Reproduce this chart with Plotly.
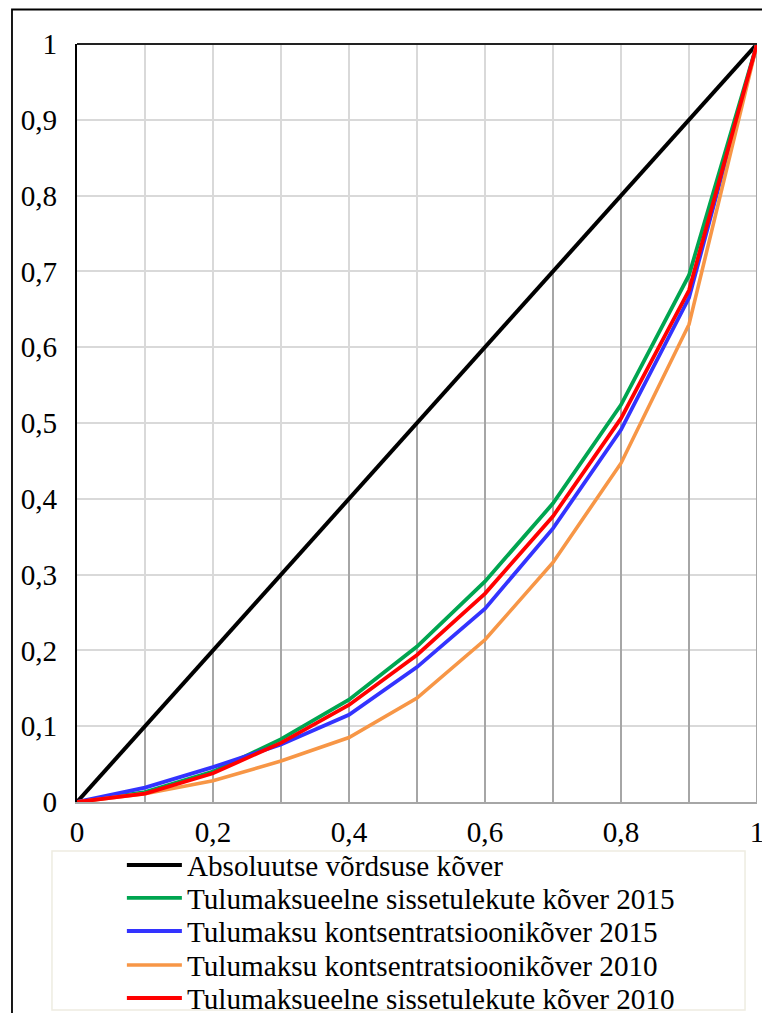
import plotly.graph_objects as go

x = [0, 0.1, 0.2, 0.3, 0.4, 0.5, 0.6, 0.7, 0.8, 0.9, 1.0]
equality = [0, 0.1, 0.2, 0.3, 0.4, 0.5, 0.6, 0.7, 0.8, 0.9, 1.0]
pretax_2015 = [0, 0.013, 0.040, 0.083, 0.135, 0.205, 0.291, 0.394, 0.524, 0.695, 1.0]
conc_2015 = [0, 0.019, 0.046, 0.076, 0.115, 0.178, 0.255, 0.361, 0.491, 0.665, 1.0]
conc_2010 = [0, 0.011, 0.028, 0.054, 0.085, 0.137, 0.214, 0.316, 0.447, 0.630, 1.0]
pretax_2010 = [0, 0.011, 0.038, 0.078, 0.128, 0.194, 0.275, 0.377, 0.506, 0.675, 1.0]

names = [
    "Absoluutse võrdsuse kõver",
    "Tulumaksueelne sissetulekute kõver 2015",
    "Tulumaksu kontsentratsioonikõver 2015",
    "Tulumaksu kontsentratsioonikõver 2010",
    "Tulumaksueelne sissetulekute kõver 2010",
]
series = [equality, pretax_2015, conc_2015, conc_2010, pretax_2010]
colors = ["#000000", "#00A550", "#3333FF", "#F79646", "#FF0000"]
widths = [4, 3.8, 3.8, 3.6, 3.8]

xticks = [0, 0.2, 0.4, 0.6, 0.8, 1.0]
xtick_text = ["0", "0,2", "0,4", "0,6", "0,8", "1"]
yticks = [0, 0.1, 0.2, 0.3, 0.4, 0.5, 0.6, 0.7, 0.8, 0.9, 1.0]
ytick_text = ["0", "0,1", "0,2", "0,3", "0,4", "0,5", "0,6", "0,7", "0,8", "0,9", "1"]

FONT = "Liberation Serif"
FS = 29.2

fig = go.Figure()

# drop lines from the equality curve down to the x axis
dx, dy = [], []
for xv, yv in zip(x, equality):
    dx += [xv, xv, None]
    dy += [0, yv, None]
fig.add_trace(go.Scatter(x=dx, y=dy, mode="lines", line=dict(color="#A6A6A6", width=2),
                         showlegend=False, hoverinfo="skip"))

legend_ids = ["legend", "legend2", "legend3", "legend4", "legend5"]
for name, vals, c, w, lg in zip(names, series, colors, widths, legend_ids):
    fig.add_trace(go.Scatter(x=x, y=vals, mode="lines", name=name,
                             line=dict(color=c, width=w), legend=lg))

# outer chart border
fig.add_shape(type="rect", xref="paper", yref="paper",
              x0=-0.0956, x1=1.2, y0=-0.5, y1=1.0455,
              line=dict(color="#000000", width=1.8), layer="below")
# top border of plot area
fig.add_shape(type="line", xref="paper", yref="paper", x0=0, x1=1, y0=1, y1=1,
              line=dict(color="#222222", width=2))
# legend box
fig.add_shape(type="rect", xref="paper", yref="paper",
              x0=-0.0368, x1=0.9824, y0=-0.2744, y1=-0.0646,
              line=dict(color="#EEECE1", width=1.5), fillcolor="white", layer="below")

row_y = [-0.0831, -0.1266, -0.1702, -0.2150, -0.2586]
legend_layout = {}
for lg, ry in zip(legend_ids, row_y):
    legend_layout[lg] = dict(x=0.066, y=ry, xanchor="left", yanchor="middle",
                             bgcolor="rgba(0,0,0,0)", borderwidth=0,
                             font=dict(family=FONT, size=FS, color="#000000"),
                             itemwidth=55)

fig.update_layout(
    width=762, height=1005,
    margin=dict(l=69, r=13, t=36, b=211, autoexpand=False),
    paper_bgcolor="white", plot_bgcolor="white",
    font=dict(family=FONT, size=FS, color="#000000"),
    showlegend=True,
    xaxis=dict(range=[0, 1], tickvals=xticks, ticktext=xtick_text,
               showgrid=True, gridcolor="#D9D9D9", gridwidth=1.5,
               minor=dict(dtick=0.1, showgrid=True, gridcolor="#D9D9D9", gridwidth=1.5),
               showline=True, linecolor="#A6A6A6", linewidth=2, automargin=False,
               zeroline=False, ticks="", ticklabelstandoff=3, fixedrange=True),
    yaxis=dict(range=[0, 1], tickvals=yticks, ticktext=ytick_text,
               showgrid=True, gridcolor="#D9D9D9", gridwidth=1.5,
               showline=True, linecolor="#000000", linewidth=2, automargin=False,
               zeroline=False, ticks="", ticklabelstandoff=12, fixedrange=True),
    **legend_layout,
)

fig.write_html("out.html")
